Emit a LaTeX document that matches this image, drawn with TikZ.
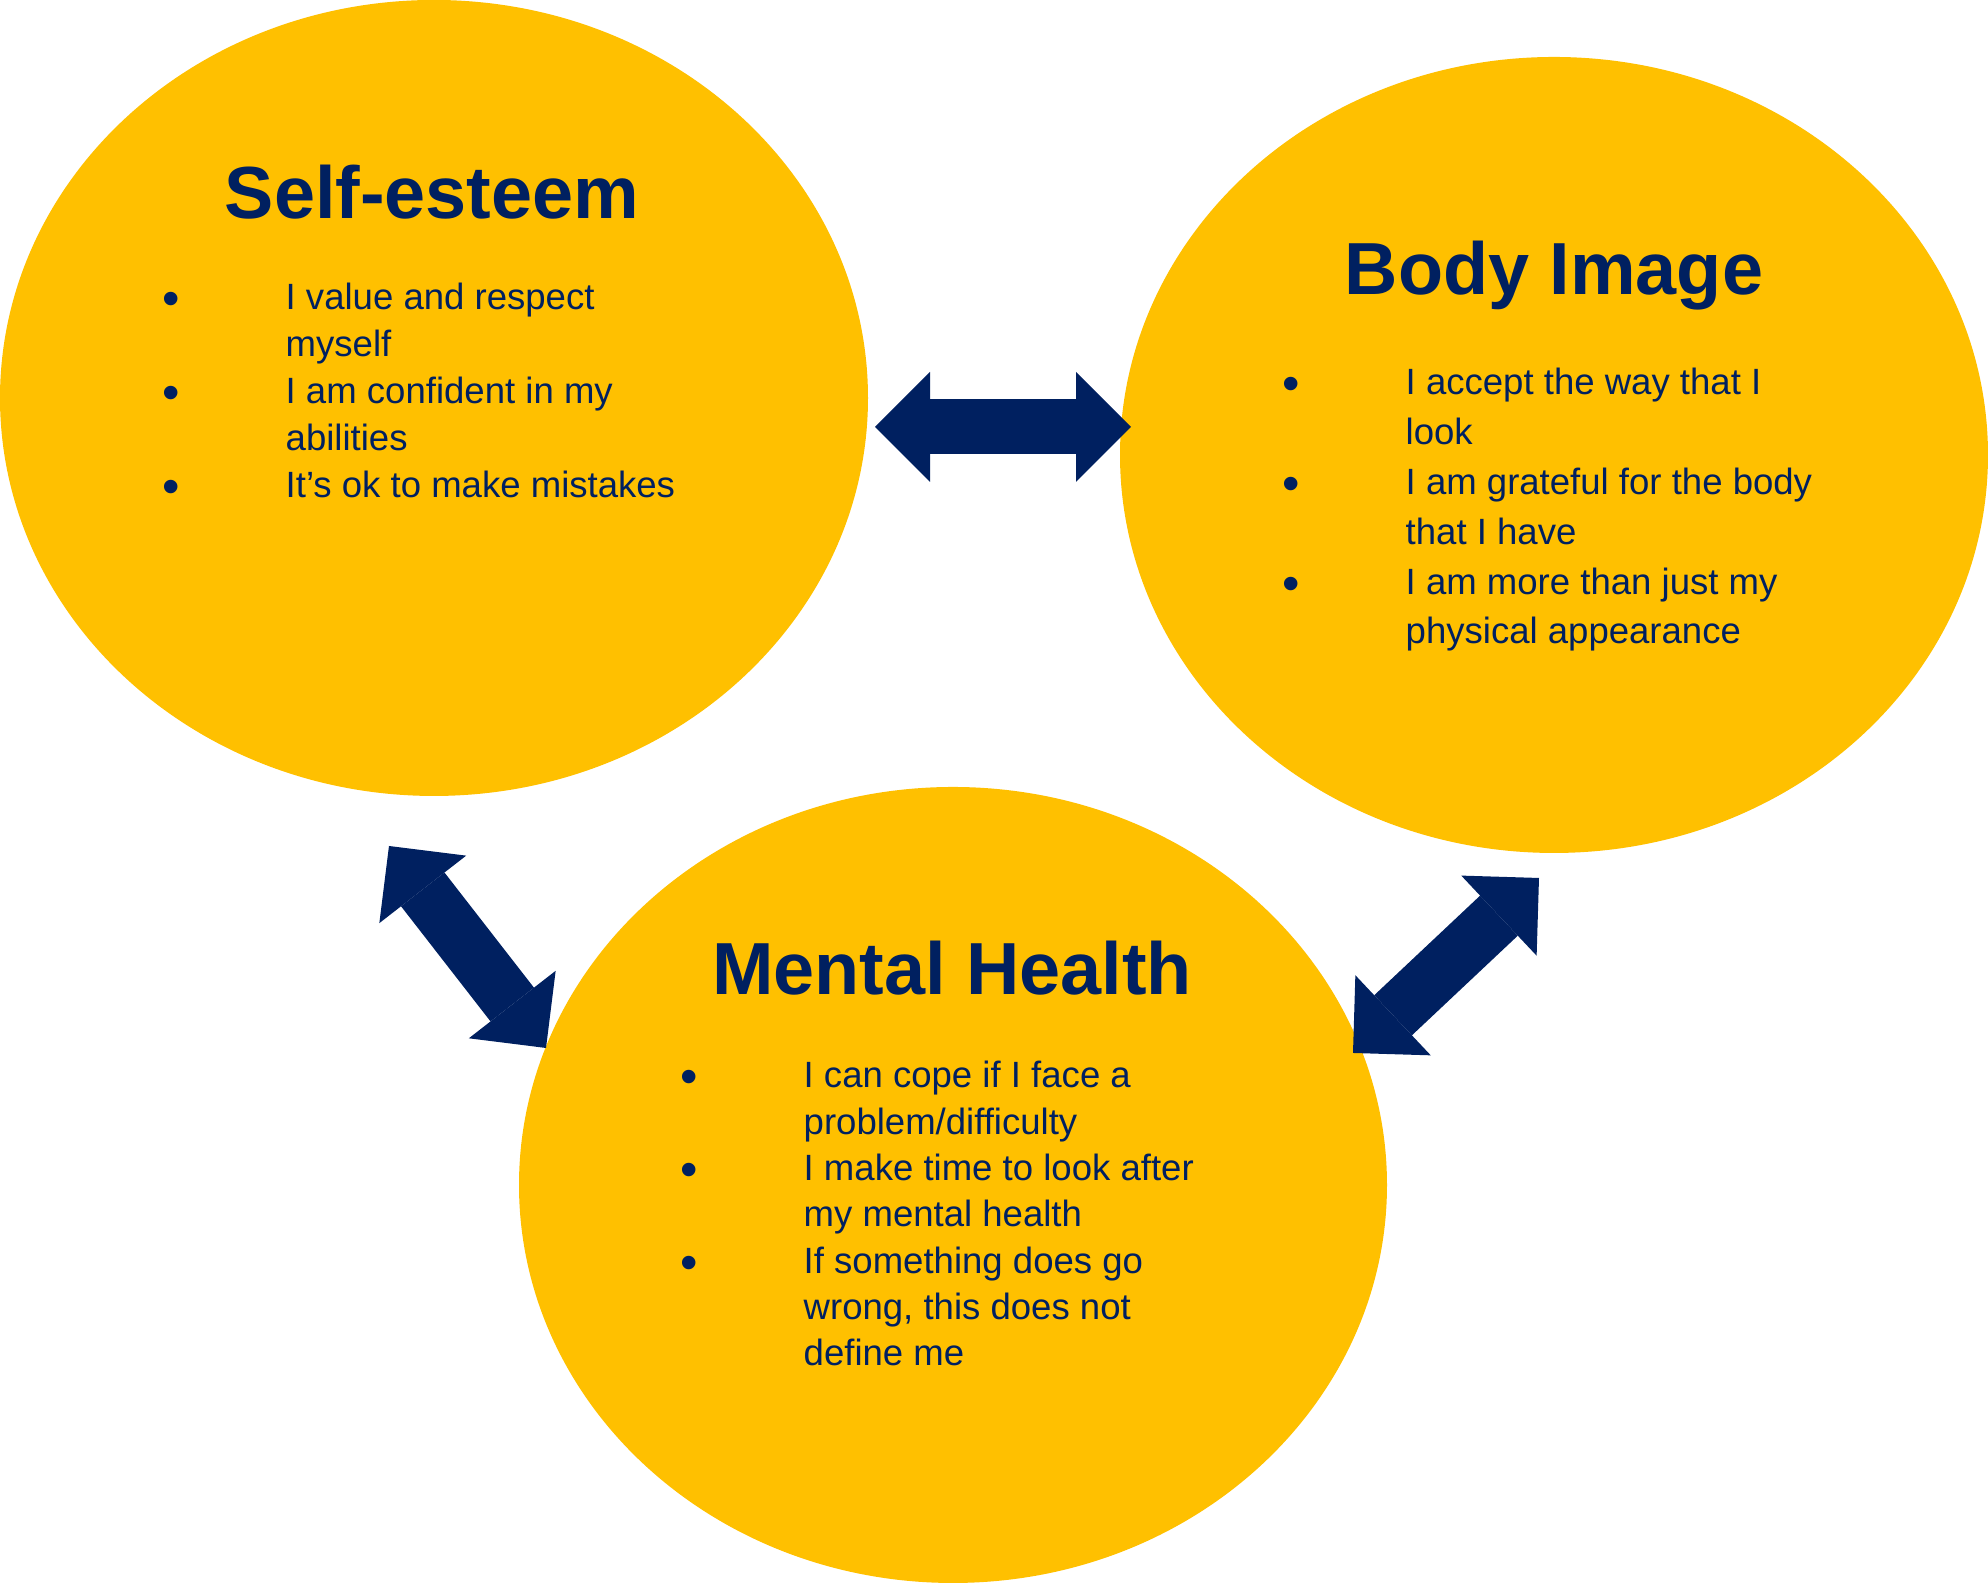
\documentclass[tikz,border=0pt]{standalone}
\usepackage{fontspec}
\setmainfont{Liberation Sans}
\usetikzlibrary{shapes.geometric,arrows.meta}

\definecolor{gold}{HTML}{FFC000}
\definecolor{navy}{HTML}{002060}

\newcommand{\listbullet}{\makebox[1.23cm][l]{\raisebox{-1.7pt}{\scalebox{1.36}{\textbullet}}}}
\newcommand{\listindent}{\hspace*{1.23cm}}

\tikzset{
  bubble/.style={ellipse, fill=gold, inner sep=0pt, minimum width=8.68cm, minimum height=7.96cm},
  heading/.style={text=navy, anchor=base, inner sep=0pt, font=\fontsize{21}{25}\selectfont\bfseries},
  points/.style={text=navy, anchor=base west, inner sep=0pt, align=left},
  twoway/.style={draw=navy, line width=0.55cm,
    arrows={Triangle[length=0.55cm,width=1.1cm,line width=0pt]-Triangle[length=0.55cm,width=1.1cm,line width=0pt]}}
}

\begin{document}
\begin{tikzpicture}
                \useasboundingbox (0,0) rectangle (19.88,15.83);

                % Draw the three ellipses
                \node[bubble] (selfesteem) at (4.34,11.85) {};
                \node[bubble] (bodyimage) at (15.54,11.28) {};
                \node[bubble] (mentalhealth) at (9.53,3.98) {};

                % Draw the headings
                \node[heading] (setitle) at (4.32,13.64) {Self-esteem};
                \node[heading] (bititle) at (15.54,12.88) {Body Image};
                \node[heading] (mhtitle) at (9.52,5.88) {Mental Health};

                % Draw the bullet lists (anchored at the last line)
                \node[points, font=\fontsize{10.4}{13.4}\selectfont] (selist) at (1.62,10.85) {%
                  \listbullet I value and respect\\
                  \listindent myself\\
                  \listbullet I am confident in my\\
                  \listindent abilities\\
                  \listbullet It’s ok to make mistakes};

                \node[points, font=\fontsize{10.4}{14.2}\selectfont] (bilist) at (12.82,9.39) {%
                  \listbullet I accept the way that I\\
                  \listindent look\\
                  \listbullet I am grateful for the body\\
                  \listindent that I have\\
                  \listbullet I am more than just my\\
                  \listindent physical appearance};

                \node[points, font=\fontsize{10.4}{13.2}\selectfont] (mhlist) at (6.80,2.17) {%
                  \listbullet I can cope if I face a\\
                  \listindent problem/difficulty\\
                  \listbullet I make time to look after\\
                  \listindent my mental health\\
                  \listbullet If something does go\\
                  \listindent wrong, this does not\\
                  \listindent define me};

                % Arrow end points
                \coordinate (a1) at (8.75,11.56);
                \coordinate (a2) at (11.31,11.56);
                \coordinate (b1) at (3.89,7.37);
                \coordinate (b2) at (5.46,5.35);
                \coordinate (c1) at (15.39,7.05);
                \coordinate (c2) at (13.53,5.30);

                % Draw the double arrows
                \draw[twoway] (a1) -- (a2);
                \draw[twoway] (b1) -- (b2);
                \draw[twoway] (c1) -- (c2);
\end{tikzpicture}
\end{document}
